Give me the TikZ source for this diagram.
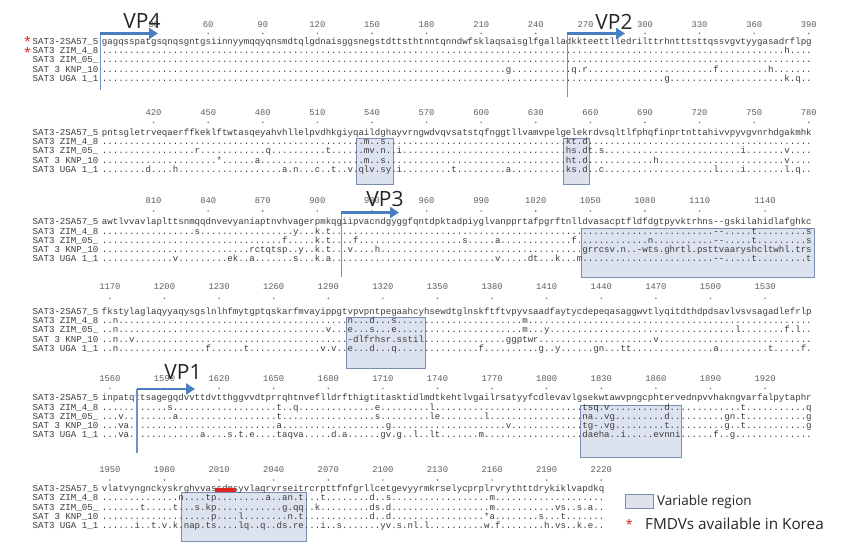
\documentclass[tikz,border=0pt]{standalone}
\usepackage{fontspec}
\setmonofont{Liberation Mono}
\newfontfamily\vpfont{Open Sans}
\newfontfamily\starfont{Liberation Sans}
\usetikzlibrary{arrows.meta}
\ExplSyntaxOn
\int_new:N \l__rs_pos_int
\cs_new_protected:Npn \rsrow #1 #2
  {
    \int_set:Nn \l__rs_pos_int { 1 }
    \clist_map_inline:nn { #2 } { \__rs_item:w ##1 \q_stop }
    \prg_replicate:nn { \int_max:nn { 0 } { #1 - \l__rs_pos_int + 1 } } { . }
  }
\cs_new_protected:Npn \__rs_item:w #1 / #2 \q_stop
  {
    \prg_replicate:nn { \int_max:nn { 0 } { #1 - \l__rs_pos_int } } { . }
    #2
    \int_set:Nn \l__rs_pos_int { #1 + \tl_count:n { #2 } }
  }
\ExplSyntaxOff
\definecolor{seqc}{HTML}{3C3C3C}
\definecolor{numc}{HTML}{5E5E5E}
\definecolor{vpblue}{HTML}{4A7EC2}
\definecolor{vpline}{HTML}{6E92C8}
\definecolor{boxfill}{HTML}{DCE3EF}
\definecolor{boxdraw}{HTML}{7A8DB0}
\definecolor{starred}{HTML}{E02424}
\tikzset{
  seqtxt/.style={font=\ttfamily\fontsize{9.1}{9.1}\selectfont, text=seqc, inner sep=0pt, anchor=base west},
  numtxt/.style={font=\ttfamily\fontsize{8.8}{8.8}\selectfont, text=numc, inner sep=0pt, anchor=center},
  vplab/.style={font=\vpfont\fontsize{21}{21}\selectfont, text=black!85, inner sep=0pt, anchor=center},
  vpthin/.style={draw=vpline, line width=1.1pt},
  vparr/.style={draw=vpblue, line width=2.6pt, -{Triangle[length=9pt,width=11pt]}},
  varbox/.style={fill=boxfill, draw=boxdraw, line width=0.9pt},
  redstar/.style={font=\starfont\fontsize{16}{16}\selectfont, text=starred, inner sep=0pt, anchor=base},
  legtxt/.style={font=\vpfont, text=black!85, inner sep=0pt, anchor=base west}
}
\newcommand\srow[4]{\node[seqtxt] (#1l) at (32.5,#2) {#3}; \node[seqtxt] (#1) at (101.7,#2) {#4};}
\newcommand\numrow[3]{\foreach \n/\c in {#3} {\node[numtxt] (n\n) at ({101.7+(\c-0.5)*5.46},#1) {\n}; \fill[numc] ({101.7+(\c-0.5)*5.46},#2) circle (0.8);}}
\def\La{SAT3-2SA57\_5}
\def\Lb{SAT3 ZIM\_4\_8}
\def\Lc{SAT3 ZIM\_05\_}
\def\Ld{SAT 3 KNP\_10}
\def\Le{SAT3 UGA 1\_1}
\begin{document}
\begin{tikzpicture}[x=1pt,y=-1pt]
\useasboundingbox (0,0) rectangle (847,555);
\fill[white] (0,0) rectangle (847,555);
% variable region boxes
\draw[varbox] (356.5,138) rectangle (393.5,184);
\draw[varbox] (563,138) rectangle (589,184);
\draw[varbox] (581,228) rectangle (814,277);
\draw[varbox] (346,317) rectangle (425.5,368);
\draw[varbox] (580.5,405) rectangle (681.5,457);
\draw[varbox] (181,492) rectangle (306,541.5);
% block 1
\numrow{25}{33.3}{30/10,60/20,90/30,120/40,150/50,180/60,210/70,240/80,300/100,330/110,360/120,390/130}
\node[numtxt] (n270) at (585.5,25) {270};
\fill[numc] (590.4,33.3) circle (0.8);
\srow{b1r1}{44.1}{\La}{gagqsspatgsqnqsgntgsiinnyymqqyqnsmdtqlgdnaisggsnegstdttsthtnntqnndwfsklaqsaisglfgalladkkteettlledrilttrhntttsttqssvgvtyygasadrflpg}
\srow{b1r2}{53.4}{\Lb}{\rsrow{130}{126/h}}
\srow{b1r3}{62.7}{\Lc}{\rsrow{130}{}}
\srow{b1r4}{72.0}{\Ld}{\rsrow{130}{75/g,87/q,89/r,113/f,123/h}}
\srow{b1r5}{81.3}{\Le}{\rsrow{130}{104/g,126/k,128/q}}
% block 2
\numrow{112.7}{122.3}{420/10,450/20,480/30,510/40,540/50,570/60,600/70,630/80,660/90,690/100,720/110,750/120,780/130}
\srow{b2r1}{135.1}{\La}{pntsgletrveqaerffkeklftwtasqeyahvhllelpvdhkgiyqaildghayvrngwdvqvsatstqfnggtllvamvpelgelekrdvsqltlfphqfinprtnttahivvpyvgvnrhdgakmhk}
\srow{b2r2}{144.4}{\Lb}{\rsrow{130}{49/m,52/s,86/kt,89/d}}
\srow{b2r3}{153.7}{\Lc}{\rsrow{130}{18/r,31/q,42/t,49/mv,52/n,55/i,86/hs,89/dt,92/s,118/i,126/v}}
\srow{b2r4}{163.0}{\Ld}{\rsrow{130}{22/*,29/a,49/m,52/s,86/ht,89/d,102/h,126/v}}
\srow{b2r5}{172.3}{\Le}{\rsrow{130}{9/d,14/h,34/a,36/n,40/c,43/t,46/v,48/qlv,52/sy,55/i,65/t,75/a,86/ks,89/d,92/c,113/l,118/i,126/l,128/q}}
% block 3
\numrow{200.7}{211}{810/10,840/20,870/30,900/40,930/50,960/60,990/70,1020/80,1050/90,1080/100,1110/110,1140/122}
\srow{b3r1}{224.7}{\La}{awtlvvavlaplttsnmqqdnvevyaniaptnvhvagerpmkqgiipvacndgyggfqntdpktadpiyglvanpprtafpgrftnlldvasacptfldfdgtpyvktrhns--gskilahidlafghkc}
\srow{b3r2}{234.0}{\Lb}{\rsrow{130}{18/s,36/y,40/k,42/t,113/--,120/t,130/s}}
\srow{b3r3}{243.3}{\Lc}{\rsrow{130}{34/f,40/k,42/t,47/f,67/s,73/a,87/f,101/n,113/--,120/t,130/s}}
\srow{b3r4}{252.6}{\Ld}{\rsrow{130}{28/rctqtsp,37/y,40/k,42/t,46/v,51/h,89/grrcsv.n..-wts.ghrtl.psttvaaryshcltwhl.trs}}
\srow{b3r5}{261.9}{\Le}{\rsrow{130}{14/v,24/ek,28/a,36/s,40/k,42/a,73/v,79/dt,84/k,88/m,113/--,120/t,130/t}}
% block 4
\numrow{286.7}{298.3}{1170/2,1200/12,1230/22,1260/32,1290/42,1320/52,1350/62,1380/72,1410/82,1440/92,1470/102,1500/112,1530/122}
\srow{b4r1}{314.1}{\La}{fkstylaglaqyyaqysgslnlhfmytgptqskarfmvayippgtvpvpntpegaahcyhsewdtglnskftftvpyvsaadfaytycdepeqasaggwvtlyqitdthdpdsavlvsvsagadlefrlp}
\srow{b4r2}{323.4}{\Lb}{\rsrow{130}{3/n,46/n,50/d,54/s,78/m}}
\srow{b4r3}{332.7}{\Lc}{\rsrow{130}{3/n,42/v,46/e,50/s,54/e,78/m,82/y,117/l,126/f,128/l}}
\srow{b4r4}{342.0}{\Ld}{\rsrow{130}{3/n,6/v,46/-dlfrhsr.sstil,75/ggptwr,102/v}}
\srow{b4r5}{351.3}{\Le}{\rsrow{130}{3/n,20/f,27/t,41/v,43/v,46/e,50/d,54/q,70/f,81/g,84/y,91/gn,96/tt,113/a,123/t,129/f}}
% block 5
\numrow{379}{388.3}{1560/2,1590/12,1620/22,1650/32,1680/42,1710/52,1740/62,1770/72,1800/82,1830/92,1860/102,1890/112,1920/122}
\srow{b5r1}{400.7}{\La}{inpatqttsagegqdvvttdvtthggvvdtprrqhtnveflldrfthigtitasktidlmdtkehtlvgailrsatyyfcdlevavlgsekwtawvpngcphtervednpvvhakngvarfalpytaphr}
\srow{b5r2}{410.0}{\Lb}{\rsrow{130}{13/s,33/t,36/q,51/e,61/l,89/tsq,93/v,104/d,118/t,130/q}}
\srow{b5r3}{419.3}{\Lc}{\rsrow{130}{4/v,14/a,33/t,51/s,61/le,71/l,89/na,93/vg,104/d,115/gn,118/t,130/g}}
\srow{b5r4}{428.6}{\Ld}{\rsrow{130}{4/va,33/a,53/g,75/v,89/tg-,93/vg,104/t,115/g,118/t,130/g}}
\srow{b5r5}{437.9}{\Le}{\rsrow{130}{4/va,19/a,24/s,26/t,28/e,33/taqva,43/d,45/a,52/gv,55/g,58/l,61/lt,70/m,89/daeha,96/i,102/evnni,113/f,116/g}}
% block 6
\numrow{470}{480}{1950/2,1980/12,2010/22,2040/32,2070/42,2100/52,2130/62,2160/72,2190/82,2220/92}
\srow{b6r1}{491.4}{\La}{vlatvyngnckyskrghvvassdmsyvlaqrvrseitrcrpttfnfgrllcetgevyyrmkrselycprplrvrythttdrykiklvapdkq}
\srow{b6r2}{500.7}{\Lb}{\rsrow{92}{15/n,20/tp,31/a,34/an,37/t,41/t,50/d,53/s,72/m}}
\srow{b6r3}{510.0}{\Lc}{\rsrow{92}{8/t,14/t,18/s,20/kp,34/g,36/qq,40/k,50/ds,53/d,72/m,84/vs,88/s,90/a}}
\srow{b6r4}{519.3}{\Ld}{\rsrow{92}{21/p,26/l,35/n,37/t,50/d,53/d,71/*a,81/s,85/t}}
\srow{b6r5}{528.6}{\Le}{\rsrow{92}{7/i,10/t,12/v,14/k,16/nap,20/ts,26/lq,30/q,33/ds,36/re,41/i,44/s,52/yv,55/s,57/nl,60/l,71/w,73/f,82/h,84/vs,88/k,90/e}}
\draw[draw=starred, line width=4pt] (215,490.2) -- (236,490.2);
% red asterisks
\node[redstar] (st1) at (27.5,47.5) {*};
\node[redstar] (st2) at (27.5,58.4) {*};
% VP markers
\coordinate (vp4b) at (100.7,90); \coordinate (vp4t) at (100.7,33.5); \coordinate (vp4e) at (158,33.5);
\coordinate (vp2b) at (567.5,97); \coordinate (vp2t) at (567.5,33.5); \coordinate (vp2e) at (625,33.5);
\coordinate (vp3b) at (341.7,277); \coordinate (vp3t) at (341.7,212.5); \coordinate (vp3e) at (399,212.5);
\coordinate (vp1b) at (137,453); \coordinate (vp1t) at (137,389); \coordinate (vp1e) at (195,389);
\draw[vpthin] (vp4b) -- (vp4t); \draw[vparr] ([xshift=-0.5pt]vp4t) -- (vp4e);
\draw[vpthin] (vp2b) -- (vp2t); \draw[vparr] ([xshift=-0.5pt]vp2t) -- (vp2e);
\draw[vpthin] (vp3b) -- (vp3t); \draw[vparr] ([xshift=-0.5pt]vp3t) -- (vp3e);
\draw[vpthin] (vp1b) -- (vp1t); \draw[vparr] ([xshift=-0.5pt]vp1t) -- (vp1e);
\node[vplab] (vp4) at (142,21) {VP4};
\node[vplab] (vp2) at (614,21.5) {VP2};
\node[vplab] (vp3) at (385,199) {VP3};
\node[vplab] (vp1) at (183,372) {VP1};
% legend
\draw[varbox] (625,494.3) rectangle (653.3,508.3);
\node[legtxt, font=\vpfont\fontsize{13.5}{13.5}\selectfont] (leg1) at (657,505) {Variable region};
\node[redstar] (st3) at (629.2,530) {*};
\node[legtxt, font=\vpfont\fontsize{15.3}{15.3}\selectfont] (leg2) at (645,529) {FMDVs available in Korea};
\end{tikzpicture}
\end{document}
